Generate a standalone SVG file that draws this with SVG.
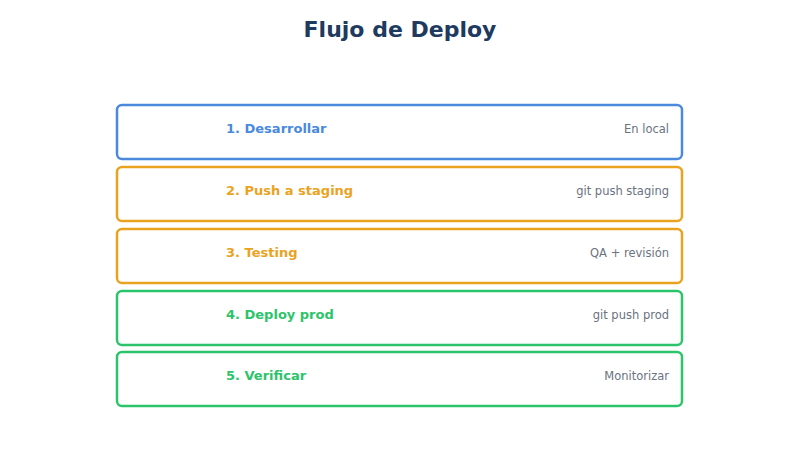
<svg xmlns="http://www.w3.org/2000/svg" width="800" height="450" viewBox="0 0 800 450">
<style>
.box{fill:#fff;stroke-width:2.5}
.t{font-family:"DejaVu Sans",sans-serif;font-size:13px;font-weight:bold}
.s{font-family:"DejaVu Sans",sans-serif;font-size:11.5px;fill:#6b7280;text-anchor:end}
.b{stroke:#4a89dc}.y{stroke:#eaa31f}.g{stroke:#2cc46a}
</style>
<rect width="800" height="450" fill="#fff"/>
<text x="400" y="37" text-anchor="middle" font-family="DejaVu Sans,sans-serif" font-size="22" font-weight="bold" fill="#1e3a5f">Flujo de Deploy</text>
<g id="step1"><rect class="box b" x="117" y="105" width="565" height="54" rx="5"/><text class="t" x="226" y="133" fill="#4a89dc">1. Desarrollar</text><text class="s" x="669" y="133">En local</text></g>
<g id="step2"><rect class="box y" x="117" y="167" width="565" height="54" rx="5"/><text class="t" x="226" y="195" fill="#eaa31f">2. Push a staging</text><text class="s" x="669" y="195">git push staging</text></g>
<g id="step3"><rect class="box y" x="117" y="229" width="565" height="54" rx="5"/><text class="t" x="226" y="257" fill="#eaa31f">3. Testing</text><text class="s" x="669" y="257">QA + revisión</text></g>
<g id="step4"><rect class="box g" x="117" y="291" width="565" height="54" rx="5"/><text class="t" x="226" y="319" fill="#2cc46a">4. Deploy prod</text><text class="s" x="669" y="319">git push prod</text></g>
<g id="step5"><rect class="box g" x="117" y="352" width="565" height="54" rx="5"/><text class="t" x="226" y="380" fill="#2cc46a">5. Verificar</text><text class="s" x="669" y="380">Monitorizar</text></g>
<g id="connectors"/>
</svg>
